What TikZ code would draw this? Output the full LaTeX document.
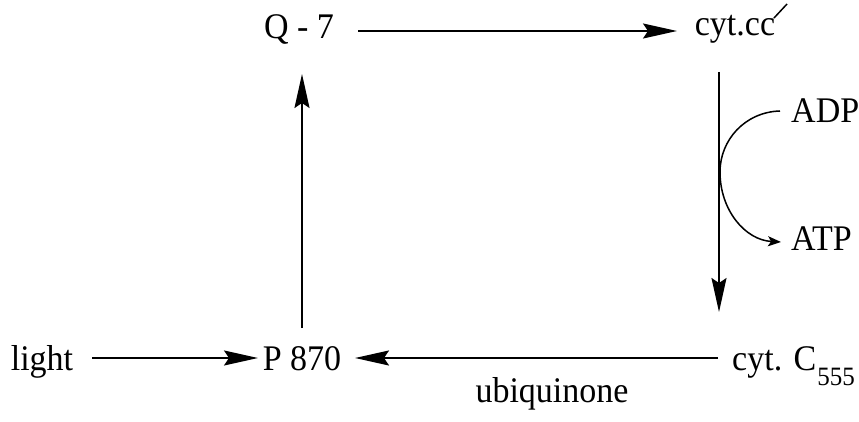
\documentclass[tikz,border=0pt]{standalone}
\usepackage{fontspec}
\setmainfont{Liberation Serif}
\usetikzlibrary{arrows.meta}
\newcommand{\tallt}[1]{\scalebox{1}[1.06]{#1}}
\tikzset{
  lbl/.style={inner sep=0pt, font=\fontsize{34}{34}\selectfont},
  big/.style={line width=1.8pt, -{Stealth[length=34pt,width=15pt,inset=5pt]}},
  small/.style={line width=1.5pt, -{Stealth[length=13pt,width=10pt,inset=3pt]}}
}
\begin{document}
\begin{tikzpicture}[x=1pt,y=-1pt]
\useasboundingbox (0,0) rectangle (859,422);
\node[lbl, anchor=base] (q7) at (299,39) {\tallt{Q - 7}};
\node[lbl, anchor=base] (cc) at (735,36) {\tallt{cyt.cc}};
\node[lbl, anchor=base] (p870) at (302,370) {\tallt{P 870}};
\node[lbl, anchor=base] (light) at (42,370) {\tallt{light}};
\node[lbl, anchor=base west] (c555) at (732,370) {\tallt{cyt. C\kern1pt\raisebox{-15pt}{\fontsize{25}{25}\selectfont 555}}};
\node[lbl, anchor=base] (ubq) at (552,402) {\tallt{ubiquinone}};
\node[lbl, anchor=base west] (adp) at (791,123) {\tallt{ADP}};
\node[lbl, anchor=base west] (atp) at (791,250) {\tallt{ATP}};
\coordinate (s1) at (774,18);
\coordinate (s2) at (787,4);
\draw[line width=1.5pt] (s1) -- (s2);
\coordinate (qa) at (358,31);
\coordinate (qb) at (677,31);
\draw[big] (qa) -- (qb);
\coordinate (ra) at (719,72);
\coordinate (rb) at (719,312);
\draw[big] (ra) -- (rb);
\coordinate (ba) at (718,358);
\coordinate (bb) at (355,358);
\draw[big] (ba) -- (bb);
\coordinate (la) at (92,358);
\coordinate (lb) at (258,358);
\draw[big] (la) -- (lb);
\coordinate (pa) at (302,328);
\coordinate (pb) at (302,74);
\draw[big] (pa) -- (pb);
\coordinate (ca) at (780,111);
\coordinate (cm) at (720,172);
\coordinate (cb) at (781,242);
\draw[small] (ca) .. controls (745,112) and (720,140) .. (cm) .. controls (720,210) and (745,240) .. (cb);
\end{tikzpicture}
\end{document}
